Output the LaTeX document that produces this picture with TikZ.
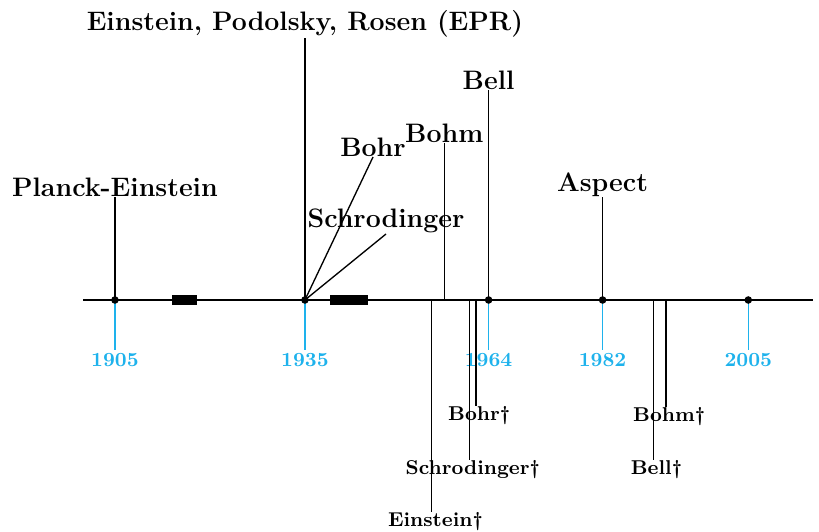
\documentclass[tikz,border=0pt]{standalone}
\usepackage{tikz}
\definecolor{yearblue}{RGB}{30,178,236}
\newcommand{\dd}{\textdagger}

\begin{document}
\begin{tikzpicture}[line width=0.6pt,
    toplabel/.style={anchor=south,inner sep=0pt,font=\large\bfseries},
    deadlabel/.style={anchor=north,inner sep=0pt,font=\small\bfseries},
    yearlabel/.style={anchor=north,inner sep=1pt,text=yearblue,font=\small\bfseries}]
  \useasboundingbox (-1.315,-3.663) rectangle (11.617,4.737);
  \coordinate (start) at (0,0);
  \coordinate (end) at (11.52,0);
  \coordinate (y1905) at (0.5,0);
  \coordinate (y1935) at (3.5,0);
  \coordinate (y1955) at (5.5,0);
  \coordinate (y1957) at (5.7,0);
  \coordinate (y1961) at (6.1,0);
  \coordinate (y1962) at (6.2,0);
  \coordinate (y1964) at (6.4,0);
  \coordinate (y1982) at (8.2,0);
  \coordinate (y1990) at (9.0,0);
  \coordinate (y1992) at (9.2,0);
  \coordinate (y2005) at (10.5,0);
  \draw[yearblue] (y1905) -- ++(0,-0.79) node[yearlabel] (l1905) {1905};
  \draw[yearblue] (y1935) -- ++(0,-0.79) node[yearlabel] (l1935) {1935};
  \draw[yearblue] (y1964) -- ++(0,-0.79) node[yearlabel] (l1964) {1964};
  \draw[yearblue] (y1982) -- ++(0,-0.79) node[yearlabel] (l1982) {1982};
  \draw[yearblue] (y2005) -- ++(0,-0.79) node[yearlabel] (l2005) {2005};
  \draw (start) -- (end);
  \fill (1.4,-0.08) rectangle (1.8,0.08);
  \fill (3.9,-0.08) rectangle (4.5,0.08);
  \node[toplabel] (planck) at (0.5,1.626) {Planck-Einstein};
  \node[toplabel] (epr) at (3.5,4.137) {Einstein, Podolsky, Rosen (EPR)};
  \node[toplabel] (bohr) at (4.575,2.258) {Bohr};
  \node[toplabel] (schr) at (4.78,1.042) {Schrodinger};
  \node[toplabel] (bohm) at (5.7,2.479) {Bohm};
  \node[toplabel] (bell) at (6.4,3.316) {Bell};
  \node[toplabel] (aspect) at (8.2,1.626) {Aspect};
  \draw (y1905) -- (planck.south);
  \draw (y1935) -- (epr.south);
  \draw (y1935) -- (bohr.south);
  \draw (y1935) -- (schr.south);
  \draw (y1957) -- (bohm.south);
  \draw (y1964) -- (bell.south);
  \draw (y1982) -- (aspect.south);
  \node[deadlabel] (einsteind) at (5.56,-3.348) {Einstein\dd};
  \node[deadlabel] (schrd) at (6.15,-2.526) {Schrodinger\dd};
  \node[deadlabel] (bohrd) at (6.25,-1.674) {Bohr\dd};
  \node[deadlabel] (belld) at (9.05,-2.526) {Bell\dd};
  \node[deadlabel] (bohmd) at (9.25,-1.69) {Bohm\dd};
  \draw (y1955) -- (y1955 |- einsteind.north);
  \draw (y1961) -- (y1961 |- schrd.north);
  \draw (y1962) -- (y1962 |- bohrd.north);
  \draw (y1990) -- (y1990 |- belld.north);
  \draw (y1992) -- (y1992 |- bohmd.north);
  \fill (y1905) circle (1.7pt);
  \fill (y1935) circle (1.7pt);
  \fill (y1964) circle (1.7pt);
  \fill (y1982) circle (1.7pt);
  \fill (y2005) circle (1.7pt);
\end{tikzpicture}
\end{document}
